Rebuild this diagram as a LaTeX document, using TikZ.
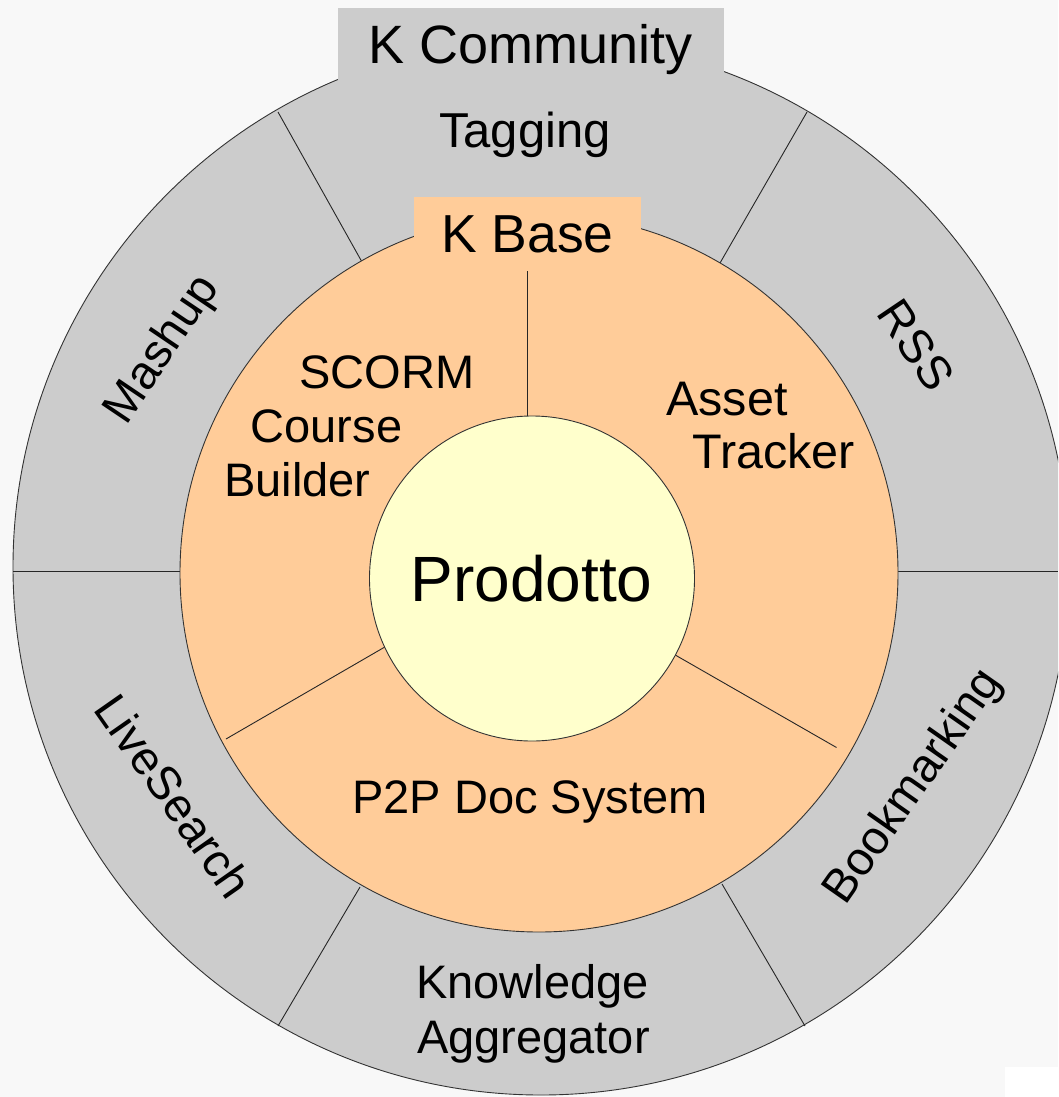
\documentclass[tikz,border=0pt]{standalone}
\usepackage{fontspec}
\setmainfont{Liberation Sans}
\usetikzlibrary{calc}
\definecolor{bgc}{HTML}{F8F8F8}
\definecolor{ringgray}{HTML}{CCCCCC}
\definecolor{kbasecol}{HTML}{FFCC99}
\definecolor{corecol}{HTML}{FFFFCC}
\begin{document}
\begin{tikzpicture}[x=1pt,y=-1pt,
  outline/.style={draw=black!80,line width=0.9pt},
  divider/.style={draw=black!85,line width=0.9pt},
  lbl/.style={inner sep=0pt,text=black,font=\fontsize{47}{54}\selectfont},
]
\useasboundingbox (0,0) rectangle (1058,1097);
\clip (0,0) rectangle (1058,1097);
\fill[bgc] (0,0) rectangle (1058,1097);
\coordinate (Co) at (541,567);
\coordinate (Cm) at (539,573);
\coordinate (Ci) at (532,578.5);
% outer ring
\path[fill=ringgray,outline] (Co) circle[radius=528pt];
% outer dividers
\coordinate (trO) at (807,112);  \coordinate (trI) at (720,263);
\coordinate (tlO) at (278,112);  \coordinate (tlI) at (362,262);
\coordinate (lO) at (13,571);    \coordinate (lI) at (180,571);
\coordinate (rO) at (1058,571);  \coordinate (rI) at (898,571);
\coordinate (blO) at (278,1026); \coordinate (blI) at (360,887);
\coordinate (brO) at (805,1026); \coordinate (brI) at (722,884);
\draw[divider] (trI) -- (trO);
\draw[divider] (tlI) -- (tlO);
\draw[divider] (lI) -- (lO);
\draw[divider] (rI) -- (rO);
\draw[divider] (blI) -- (blO);
\draw[divider] (brI) -- (brO);
% K Community tab
\fill[ringgray] (338,8) rectangle (724,100);
% middle circle
\path[fill=kbasecol,outline] (Cm) circle[radius=359pt];
\fill[kbasecol] (414,197) rectangle (641,270);
% inner dividers
\coordinate (vT) at (527.5,271); \coordinate (vB) at (527.5,430);
\coordinate (llO) at (226,739);  \coordinate (llI) at (390,644);
\coordinate (lrO) at (836.5,747.5); \coordinate (lrI) at (670,652);
\draw[divider] (vT) -- (vB);
\draw[divider] (llO) -- (llI);
\draw[divider] (lrO) -- (lrI);
% core
\path[fill=corecol,outline] (Ci) circle[radius=162.5pt];
% small white patch
\fill[white] (1005,1067) rectangle (1058,1097);
% labels
\node[lbl,font=\fontsize{54}{60}\selectfont,anchor=base] (kcom) at (531,64) {K Community};
\node[lbl,font=\fontsize{49}{56}\selectfont,anchor=base] (tag) at (525,147) {Tagging};
\node[lbl,font=\fontsize{53.5}{60}\selectfont,anchor=base] (kbase) at (527.5,252) {K Base};
\node[lbl,anchor=base] (scorm1) at (387,388) {SCORM};
\node[lbl,anchor=base] (scorm2) at (326.5,442) {Course};
\node[lbl,anchor=base] (scorm3) at (297.5,496) {Builder};
\node[lbl,font=\fontsize{48.5}{55}\selectfont,anchor=base] (asset1) at (727,415) {Asset};
\node[lbl,font=\fontsize{48.5}{55}\selectfont,anchor=base] (asset2) at (773.5,468) {Tracker};
\node[lbl,anchor=base] (p2p) at (530,813) {P2P Doc System};
\node[lbl,font=\fontsize{64}{70}\selectfont,anchor=base] (prod) at (531.5,601) {Prodotto};
\node[lbl,anchor=base] (know1) at (532.5,998) {Knowledge};
\node[lbl,anchor=base] (know2) at (533.5,1053) {Aggregator};
\node[lbl,rotate=56] (mash) at (163,350) {Mashup};
\node[lbl,rotate=-56] (rss) at (916,345) {RSS};
\node[lbl,rotate=55] (book) at (914,787) {Bookmarking};
\node[lbl,rotate=-55] (live) at (174,796) {LiveSearch};
\end{tikzpicture}
\end{document}
